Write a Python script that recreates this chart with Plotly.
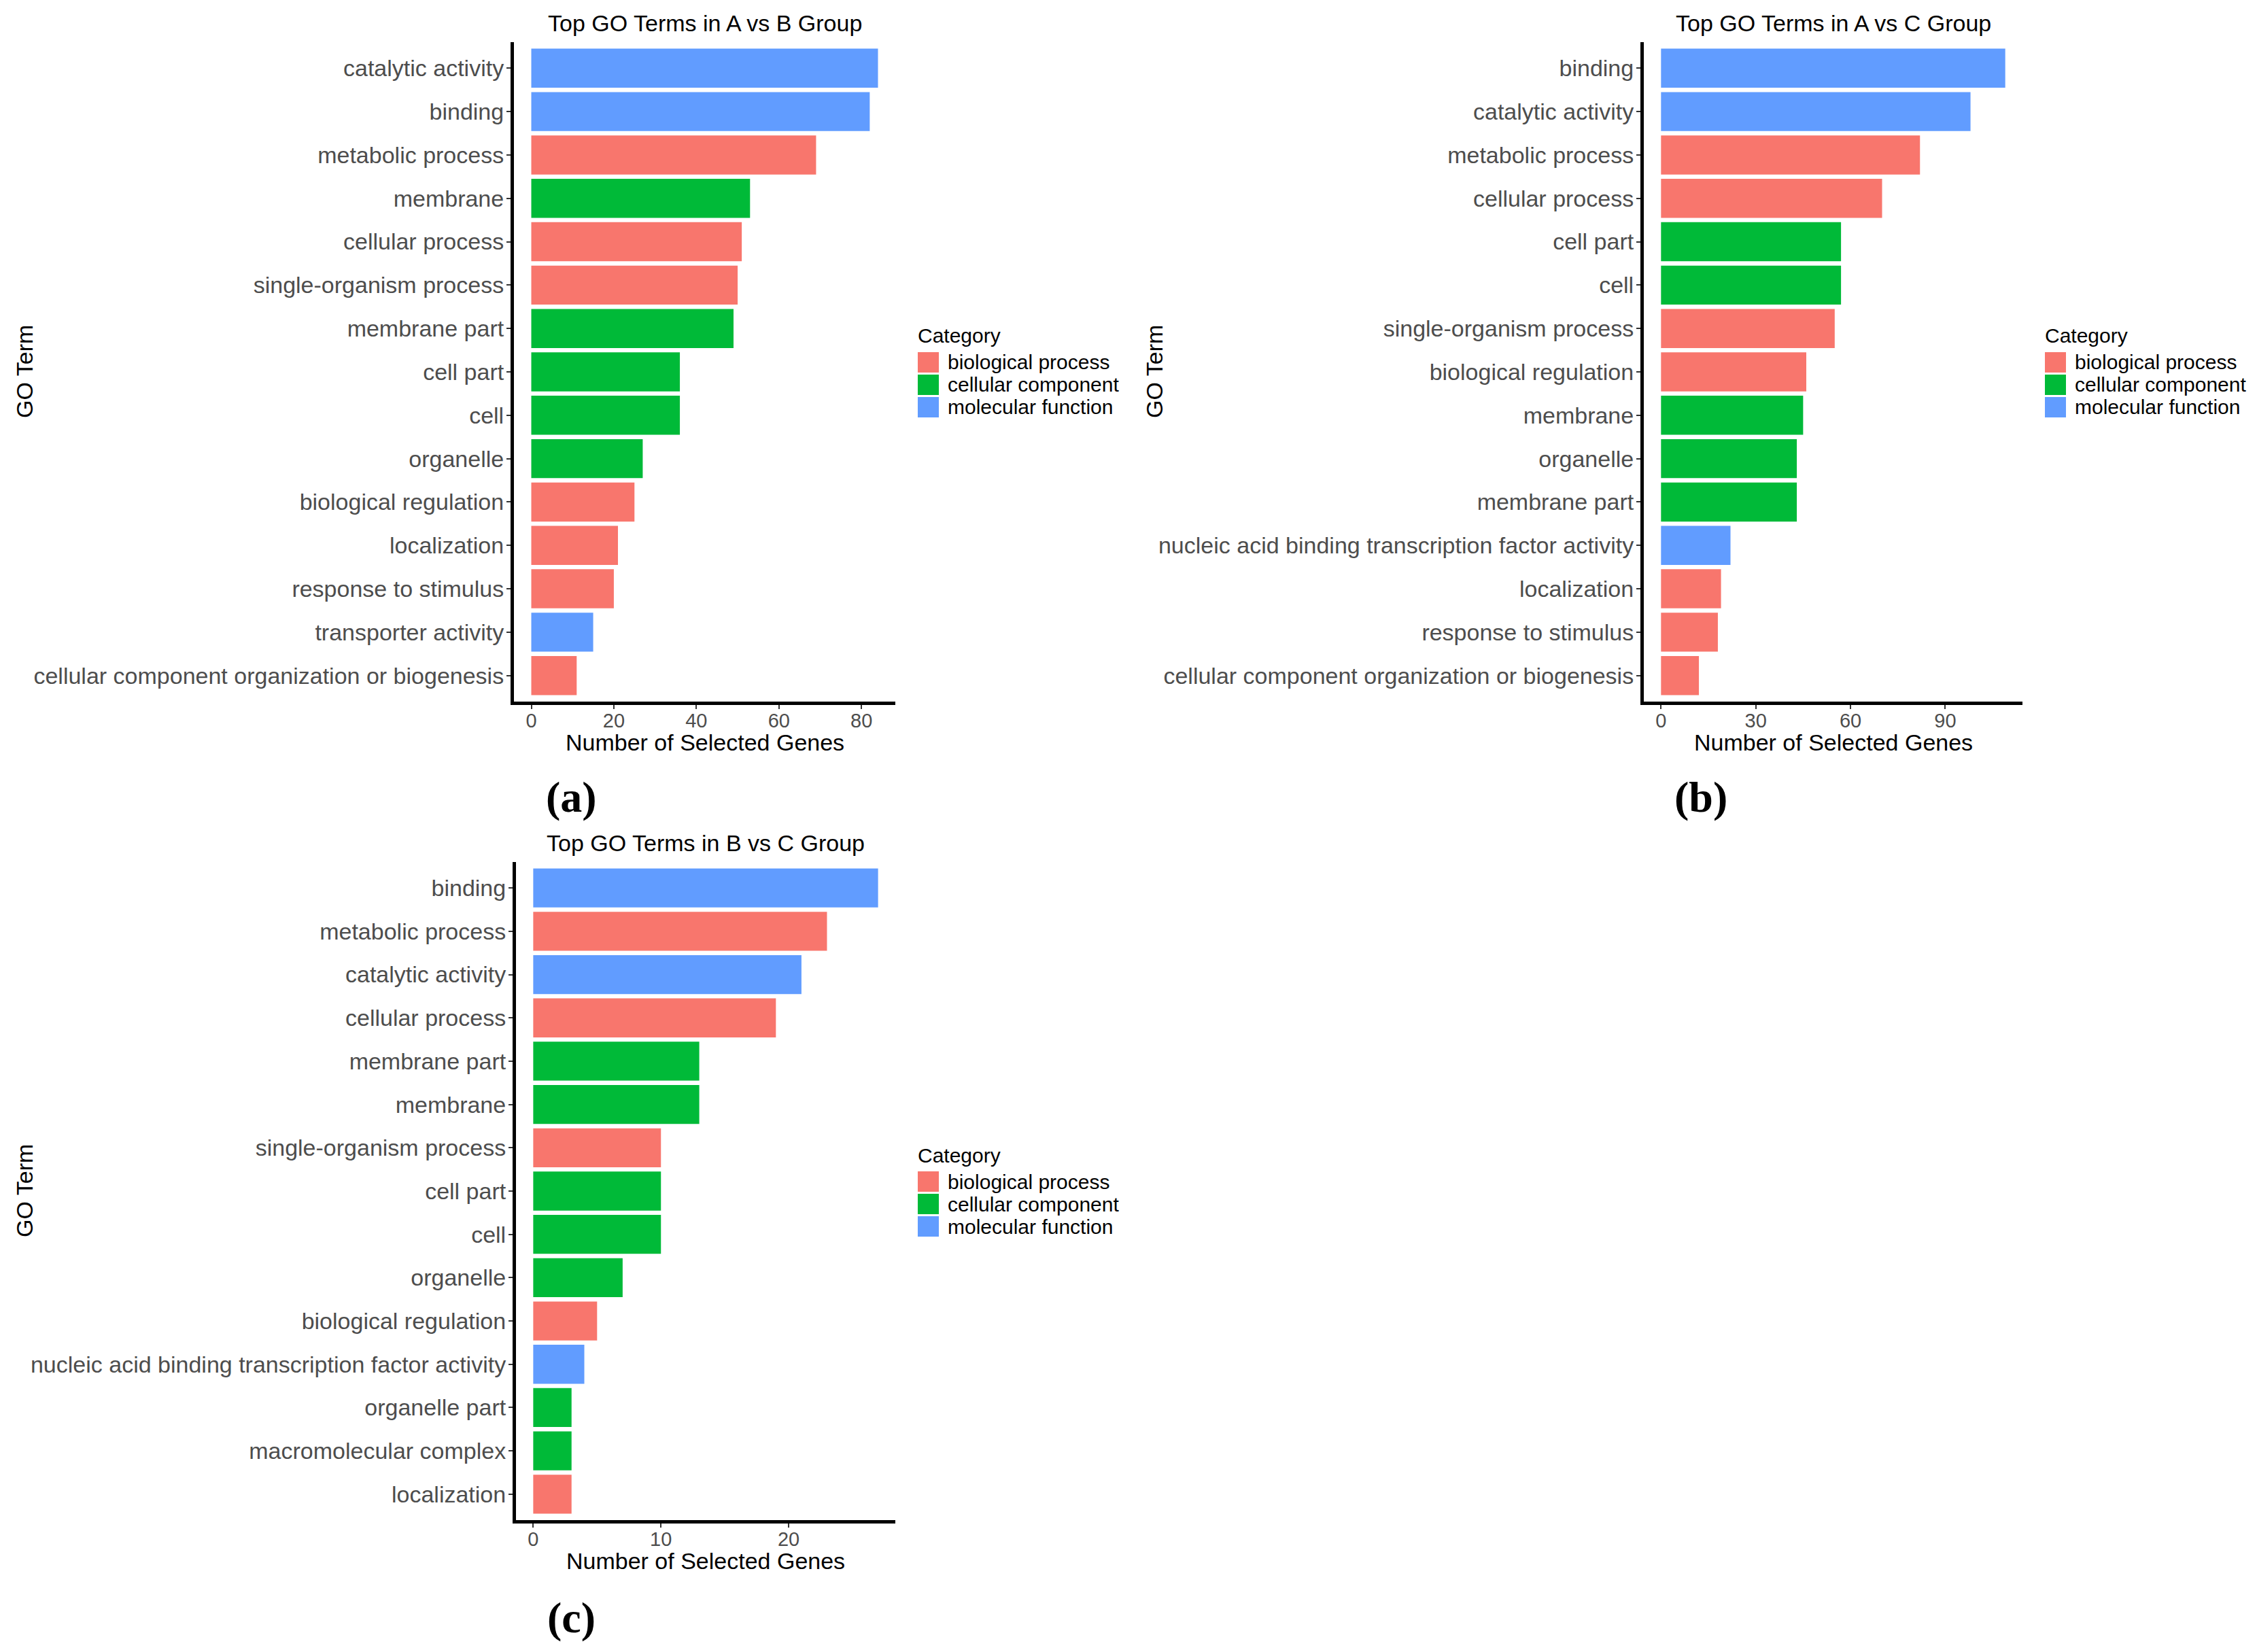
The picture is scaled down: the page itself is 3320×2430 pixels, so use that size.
"""Top GO terms per group comparison, three horizontal bar panels."""

import plotly.graph_objects as go

# Category colours (ggplot default hue palette)
CATEGORIES = ["biological process", "cellular component", "molecular function"]
COLORS = {
    "biological process": "#F8766D",
    "cellular component": "#00BA38",
    "molecular function": "#619CFF",
}

BP, CC, MF = CATEGORIES

# (a) A vs B
AB_TERMS = [
    "catalytic activity", "binding", "metabolic process", "membrane",
    "cellular process", "single-organism process", "membrane part",
    "cell part", "cell", "organelle", "biological regulation",
    "localization", "response to stimulus", "transporter activity",
    "cellular component organization or biogenesis",
]
AB_COUNTS = [84, 82, 69, 53, 51, 50, 49, 36, 36, 27, 25, 21, 20, 15, 11]
AB_CATS = [MF, MF, BP, CC, BP, BP, CC, CC, CC, CC, BP, BP, BP, MF, BP]
AB_TICKS = [0, 20, 40, 60, 80]

# (b) A vs C
AC_TERMS = [
    "binding", "catalytic activity", "metabolic process", "cellular process",
    "cell part", "cell", "single-organism process", "biological regulation",
    "membrane", "organelle", "membrane part",
    "nucleic acid binding transcription factor activity", "localization",
    "response to stimulus", "cellular component organization or biogenesis",
]
AC_COUNTS = [109, 98, 82, 70, 57, 57, 55, 46, 45, 43, 43, 22, 19, 18, 12]
AC_CATS = [MF, MF, BP, BP, CC, CC, BP, BP, CC, CC, CC, MF, BP, BP, BP]
AC_TICKS = [0, 30, 60, 90]

# (c) B vs C
BC_TERMS = [
    "binding", "metabolic process", "catalytic activity", "cellular process",
    "membrane part", "membrane", "single-organism process", "cell part",
    "cell", "organelle", "biological regulation",
    "nucleic acid binding transcription factor activity", "organelle part",
    "macromolecular complex", "localization",
]
BC_COUNTS = [27, 23, 21, 19, 13, 13, 10, 10, 10, 7, 5, 4, 3, 3, 3]
BC_CATS = [MF, BP, MF, BP, CC, CC, BP, CC, CC, CC, BP, MF, CC, CC, BP]
BC_TICKS = [0, 10, 20]

# page body has an 8px margin, so the figure is a bit smaller and shifted
OFF = 8
W, H = 3312, 2422
FONT = "Liberation Sans"
TICK_GREY = "#4D4D4D"


def px_x(v):
    return (v - OFF) / W


def px_y(v):
    return 1 - (v - OFF) / H


# panel placement in page pixels: (left, right, top, bottom), tag centre, y-title x
PANELS = [
    dict(title="Top GO Terms in A vs B Group", terms=AB_TERMS, counts=AB_COUNTS,
         cats=AB_CATS, ticks=AB_TICKS, box=(756, 1317, 62, 1032),
         tag="(a)", tag_xy=(840, 1172), ytitle_x=36),
    dict(title="Top GO Terms in A vs C Group", terms=AC_TERMS, counts=AC_COUNTS,
         cats=AC_CATS, ticks=AC_TICKS, box=(2418, 2975, 62, 1032),
         tag="(b)", tag_xy=(2502, 1172), ytitle_x=1698),
    dict(title="Top GO Terms in B vs C Group", terms=BC_TERMS, counts=BC_COUNTS,
         cats=BC_CATS, ticks=BC_TICKS, box=(759, 1317, 1268, 2236),
         tag="(c)", tag_xy=(840, 2379), ytitle_x=36),
]

fig = go.Figure()
annotations = []
shapes = []
layout = {}

for i, p in enumerate(PANELS, start=1):
    sfx = "" if i == 1 else str(i)
    xa, ya = f"x{sfx}", f"y{sfx}"
    left, right, top, bottom = p["box"]
    n = len(p["terms"])
    vmax = max(p["counts"])

    fig.add_trace(go.Bar(
        x=p["counts"], y=p["terms"], orientation="h", width=0.9,
        marker=dict(color=[COLORS[c] for c in p["cats"]], line=dict(width=0)),
        xaxis=xa, yaxis=ya, showlegend=False,
        hovertemplate="%{y}: %{x}<extra></extra>",
    ))

    layout[f"xaxis{sfx}"] = dict(
        domain=[px_x(left), px_x(right)], anchor=ya,
        range=[-0.05 * vmax, 1.05 * vmax],
        tickvals=p["ticks"], ticks="outside", ticklen=6, tickwidth=2,
        tickcolor="#333333", showline=True, linewidth=5, linecolor="black",
        showgrid=False, zeroline=False, ticklabelstandoff=-8,
        tickfont=dict(family=FONT, size=29, color=TICK_GREY),
    )
    layout[f"yaxis{sfx}"] = dict(
        domain=[px_y(bottom), px_y(top)], anchor=xa,
        type="category", categoryorder="array", categoryarray=p["terms"],
        range=[n - 0.4, -0.6],
        ticks="outside", ticklen=6, tickwidth=2, tickcolor="#333333",
        showline=True, linewidth=5, linecolor="black",
        showgrid=False, zeroline=False, ticklabelstandoff=-3,
        tickfont=dict(family=FONT, size=34, color=TICK_GREY),
    )

    dom_x, dom_y = f"{xa} domain", f"{ya} domain"
    # title, axis titles
    annotations.append(dict(
        text=p["title"], xref=dom_x, yref=dom_y, x=0.5, y=1, yshift=28,
        showarrow=False, xanchor="center", yanchor="middle",
        font=dict(family=FONT, size=34, color="black"),
    ))
    annotations.append(dict(
        text="Number of Selected Genes", xref=dom_x, yref=dom_y, x=0.5, y=0,
        yshift=-60, showarrow=False, xanchor="center", yanchor="middle",
        font=dict(family=FONT, size=34, color="black"),
    ))
    annotations.append(dict(
        text="GO Term", xref="paper", yref=dom_y, x=px_x(p["ytitle_x"]), y=0.5,
        textangle=-90, showarrow=False, xanchor="center", yanchor="middle",
        font=dict(family=FONT, size=34, color="black"),
    ))
    # panel tag
    tx, ty = p["tag_xy"]
    annotations.append(dict(
        text=f"<b>{p['tag']}</b>", xref="paper", yref="paper",
        x=px_x(tx), y=px_y(ty), showarrow=False,
        xanchor="center", yanchor="middle",
        font=dict(family="Liberation Serif", size=64, color="black"),
    ))

    # legend drawn beside each panel
    annotations.append(dict(
        text="Category", xref=dom_x, yref=dom_y, x=1, y=0.5,
        xshift=31, yshift=53, showarrow=False, xanchor="left", yanchor="middle",
        font=dict(family=FONT, size=30, color="black"),
    ))
    for k, cat in enumerate(CATEGORIES):
        yc = 14 - 33 * k
        shapes.append(dict(
            type="rect", xref=dom_x, yref=dom_y,
            xsizemode="pixel", ysizemode="pixel", xanchor=1, yanchor=0.5,
            x0=33, x1=64, y0=yc - 15, y1=yc + 15,
            fillcolor=COLORS[cat], line=dict(width=0),
        ))
        annotations.append(dict(
            text=cat, xref=dom_x, yref=dom_y, x=1, y=0.5,
            xshift=75, yshift=yc, showarrow=False,
            xanchor="left", yanchor="middle",
            font=dict(family=FONT, size=30, color="black"),
        ))

fig.update_layout(
    width=W, height=H,
    margin=dict(l=0, r=0, t=0, b=0),
    paper_bgcolor="white", plot_bgcolor="white",
    annotations=annotations, shapes=shapes,
    showlegend=False,
    **layout,
)

fig.write_html("out.html")
